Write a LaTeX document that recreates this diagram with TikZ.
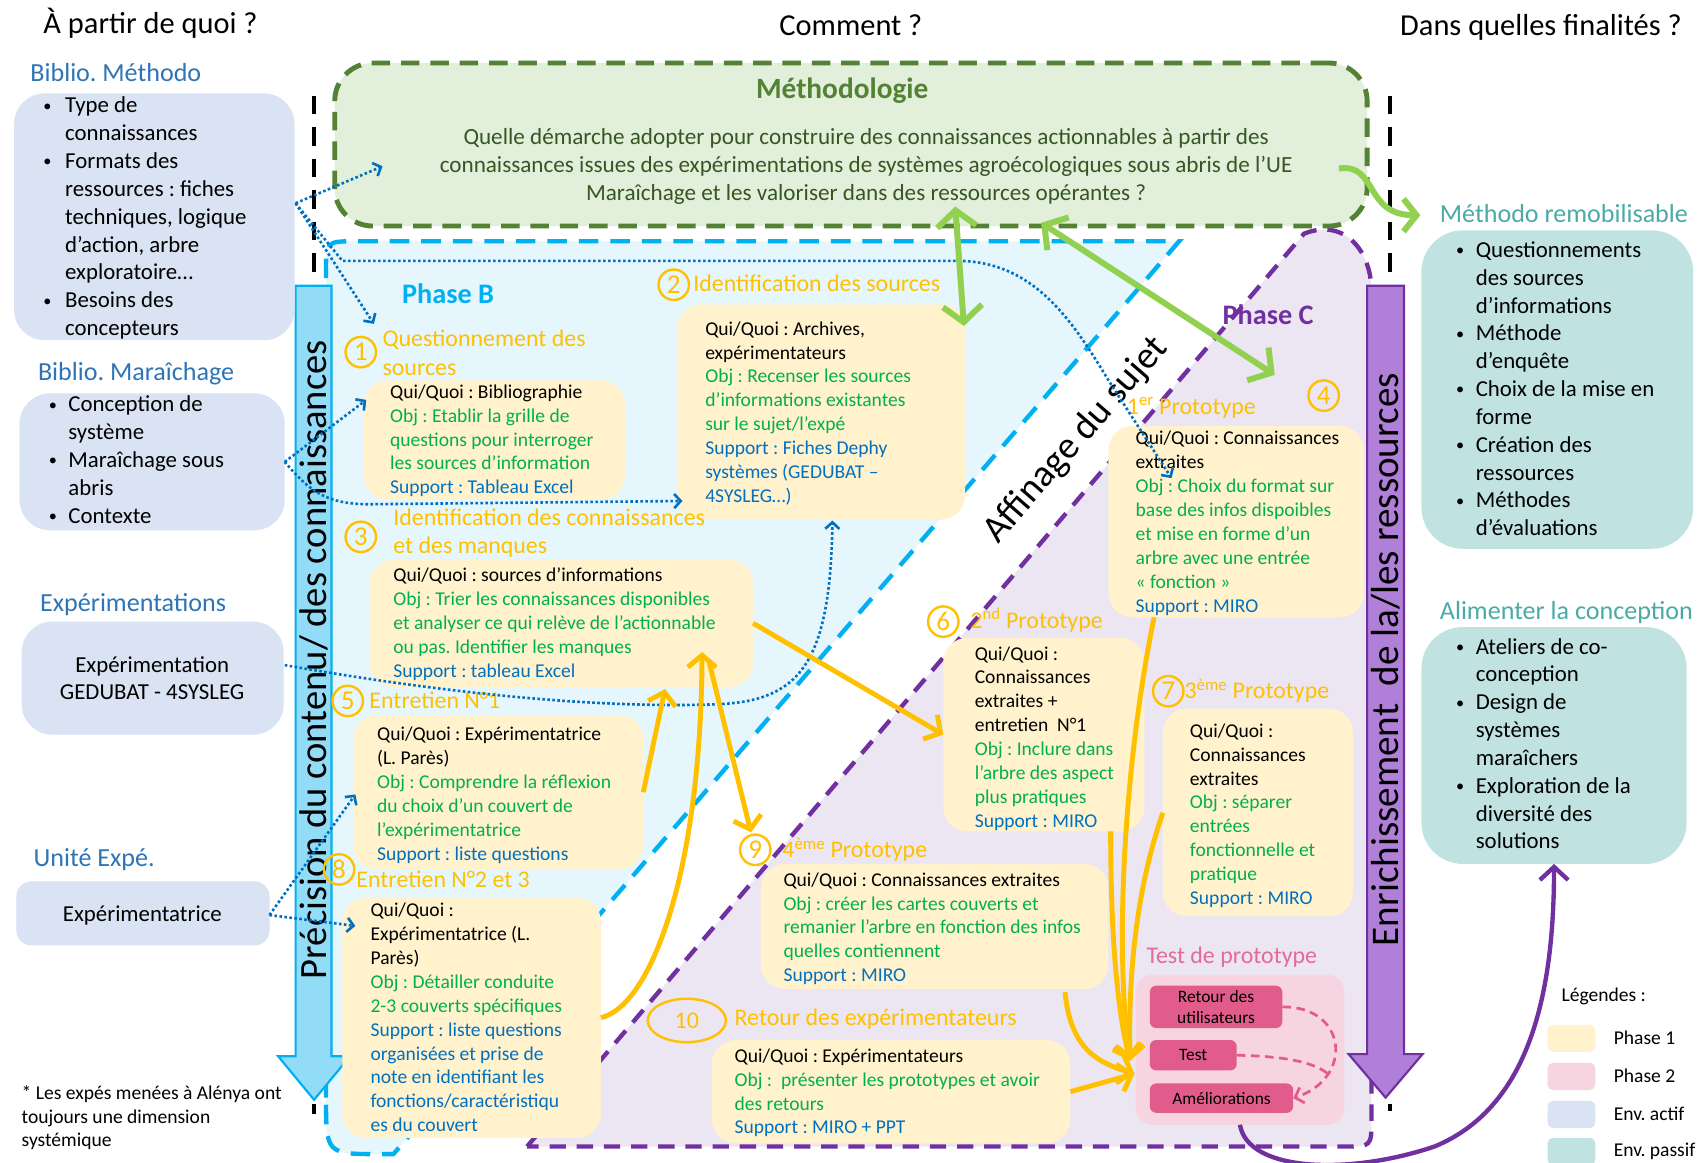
\documentclass[tikz,border=0pt]{standalone}
\usepackage{fontspec}
\setmainfont{Carlito}
\usetikzlibrary{arrows.meta,shapes.geometric}
\frenchspacing

% palette
\definecolor{pone}{HTML}{FFF2CC}
\definecolor{ptwo}{HTML}{F6D5E0}
\definecolor{envact}{HTML}{DAE3F3}
\definecolor{envpas}{HTML}{C0E3E1}
\definecolor{methfill}{HTML}{E2EFDA}
\definecolor{methline}{HTML}{548235}
\definecolor{methtext}{HTML}{375623}
\definecolor{bfill}{HTML}{E6F6FD}
\definecolor{bline}{HTML}{00B0F0}
\definecolor{cfill}{HTML}{ECE6F3}
\definecolor{cline}{HTML}{7030A0}
\definecolor{orng}{HTML}{FFC000}
\definecolor{objg}{HTML}{00B050}
\definecolor{supb}{HTML}{0070C0}
\definecolor{headb}{HTML}{2E75B6}
\definecolor{tealt}{HTML}{4BAAA7}
\definecolor{barrow}{HTML}{93DCF8}
\definecolor{carrow}{HTML}{B07FD7}
\definecolor{lgreen}{HTML}{92D050}
\definecolor{pinkin}{HTML}{E15B8B}
\definecolor{pinkt}{HTML}{E36B97}

% type sizes
\newcommand\szbody{\fontsize{18}{22}\selectfont}
\newcommand\szlist{\fontsize{21}{25.6}\selectfont}
\newcommand\sztitle{\fontsize{22}{27}\selectfont}
\newcommand\szhead{\fontsize{28}{34}\selectfont}
\newcommand\szlab{\fontsize{24}{29}\selectfont}
\newcommand\bitem[1][20]{\makebox[#1pt][l]{\raisebox{1.5pt}{\fontsize{15}{15}\selectfont\textbullet}}}
\newcommand\bcont[1][20]{\hspace*{#1pt}}
\newcommand\gtxt[1]{\textcolor{objg}{#1}}
\newcommand\btxt[1]{\textcolor{supb}{#1}}

\tikzset{
  zonebase/.style={anchor=north west, inner sep=0pt, outer sep=0pt},
  txt/.style={anchor=north west, inner sep=0pt, outer sep=0pt, align=left},
  body/.style={txt, font=\szbody},
  single/.style={anchor=base west, inner sep=0pt, outer sep=0pt},
  yellowbox/.style={fill=pone, rounded corners=22pt},
  actbox/.style={fill=envact, rounded corners=28pt},
  pasbox/.style={fill=envpas, rounded corners=38pt},
  numc/.style={circle, draw=orng, line width=2.2pt, text=orng, minimum size=28pt,
    inner sep=0pt, font=\fontsize{25}{28}\selectfont},
  stitle/.style={single, text=orng, font=\sztitle},
  dotarrow/.style={draw=supb, line width=2.4pt, dash pattern=on 2.4pt off 2.2pt,
    -{Straight Barb[length=6pt,width=13pt]}},
  orarrow/.style={draw=orng, line width=4.5pt, -{Straight Barb[length=11pt,width=26pt]}},
  grarrow/.style={draw=lgreen, line width=5.5pt},
  pinkbtn/.style={zonebase, fill=pinkin, rounded corners=6pt, align=center,
    font=\fontsize{16}{19}\selectfont},
  swatch/.style={zonebase, rounded corners=5pt, minimum width=44pt, minimum height=25pt},
}
% a named rectangular zone given by its two corners
\newcommand\zone[6][]{\node[zonebase,#1,minimum width={#5-#3},minimum height={#6-#4}] (#2) at (#3,#4) {};}

\begin{document}
\begin{tikzpicture}[x=1pt,y=-1pt]
\useasboundingbox (0,0) rectangle (1568,1070);
\fill[white] (0,0) rectangle (1568,1070);

% ---------- phase areas ----------
\draw[fill=bfill, draw=bline, line width=4pt, dash pattern=on 18pt off 11pt]
  (300,1010) -- (300,250) .. controls (300,222) .. (328,222) -- (1085,222)
  -- (362,1062) -- (350,1062) .. controls (300,1062) .. (300,1010) -- cycle;
\draw[fill=cfill, draw=cline, line width=4pt, dash pattern=on 15pt off 10pt]
  (485,1055) -- (1200,215) .. controls (1238,200) and (1262,232) .. (1262,268)
  -- (1262,1030) .. controls (1262,1055) .. (1237,1055) -- cycle;

% column separators
\draw[black, line width=4pt, dash pattern=on 17pt off 12pt] (289,88) -- (289,1025);
\draw[black, line width=4pt, dash pattern=on 17pt off 12pt] (1279,88) -- (1279,1022);

% ---------- headers ----------
\node[single, font=\szhead] (hfrom) at (40,31) {À partir de quoi ?};
\node[anchor=base, inner sep=0pt, font=\szhead] (hhow) at (783,33) {Comment ?};
\node[anchor=base, inner sep=0pt, font=\szhead] (hwhy) at (1418,33) {Dans quelles finalités ?};

% ---------- methodology ----------
\node[zonebase, minimum width=950, minimum height=150, rounded corners=35pt, fill=methfill,
  draw=methline, line width=4.5pt, dash pattern=on 17pt off 10pt] (meth) at (308,58) {};
\node[anchor=base, inner sep=0pt, text=methline, font=\fontsize{27}{32}\selectfont\bfseries]
  (methtitle) at (775,91) {Méthodologie};
\node[anchor=north, inner sep=0pt, align=center, text=methtext, font=\fontsize{21.3}{25.5}\selectfont]
  (methq) at (797,115) {\strut Quelle démarche adopter pour construire des connaissances actionnables à partir des\\
  connaissances issues des expérimentations de systèmes agroécologiques sous abris de l’UE\\
  Maraîchage et les valoriser dans des ressources opérantes ?};

% ---------- vertical arrows ----------
\draw[fill=barrow, draw=bline, line width=2pt]
  (272,263) -- (305,263) -- (305,972) -- (322,972) -- (289,1012) -- (256,972) -- (272,972) -- cycle;
\node[rotate=90, inner sep=0pt, font=\fontsize{35.5}{40}\selectfont] (precision) at (289,607)
  {Précision du contenu/ des connaissances};
\draw[fill=carrow, draw=cline, line width=2pt]
  (1258,263) -- (1292,263) -- (1292,970) -- (1309,970) -- (1275,1010) -- (1241,970) -- (1258,970) -- cycle;
\node[rotate=90, inner sep=0pt, font=\fontsize{36}{40}\selectfont] (enrich) at (1275,607)
  {Enrichissement\ \ de la/les ressources};

% phase labels
\node[single, text=bline, font=\fontsize{26}{30}\selectfont\bfseries] (phb) at (370,279) {Phase B};
\node[single, text=cline, font=\fontsize{26}{30}\selectfont\bfseries] (phc) at (1125,299) {Phase C};
\node[rotate=49, inner sep=0pt, font=\fontsize{35}{40}\selectfont] (affinage) at (990,405) {Affinage du sujet};

% ---------- left column ----------
\node[single, text=headb, font=\szlab] (lab1) at (28,75) {Biblio. Méthodo};
\zone[actbox]{envA}{13}{86}{271}{313}
\node[txt, font=\szlist] (envAt) at (40,86) {\strut\bitem Type de\\\bcont connaissances\\
  \bitem Formats des\\\bcont ressources : fiches\\\bcont techniques, logique\\\bcont d’action, arbre\\
  \bcont exploratoire…\\\bitem Besoins des\\\bcont concepteurs};

\node[single, text=headb, font=\szlab] (lab2) at (35,350) {Biblio. Maraîchage};
\zone[actbox]{envB}{18}{362}{262}{488}
\node[txt, font=\szlist] (envBt) at (45,361) {\strut\bitem[18]Conception de\\\bcont[18]système\\
  \bitem[18]Maraîchage sous\\\bcont[18]abris\\\bitem[18]Contexte};

\node[single, text=headb, font=\szlab] (lab3) at (37,563) {Expérimentations};
\zone[actbox]{envC}{20}{572}{261}{676}
\node[align=center, inner sep=0pt, font=\szlist] (envCt) at (140,624) {Expérimentation\\GEDUBAT - 4SYSLEG};

\node[single, text=headb, font=\szlab] (lab4) at (31,797) {Unité Expé.};
\zone[actbox, rounded corners=14pt]{envD}{15}{811}{248}{870}
\node[inner sep=0pt, font=\szlist] (envDt) at (131,842) {Expérimentatrice};

\node[body] (note) at (20,996) {\strut * Les expés menées à Alénya ont\\toujours une dimension\\systémique};

% ---------- right column ----------
\node[single, text=tealt, font=\szlab] (lab5) at (1325,205) {Méthodo remobilisable};
\zone[pasbox]{outA}{1308}{212}{1558}{505}
\node[txt, font=\szlist] (outAt) at (1340,219) {\strut\bitem[18]Questionnements\\\bcont[18]des sources\\
  \bcont[18]d’informations\\\bitem[18]Méthode\\\bcont[18]d’enquête\\\bitem[18]Choix de la mise en\\
  \bcont[18]forme\\\bitem[18]Création des\\\bcont[18]ressources\\\bitem[18]Méthodes\\\bcont[18]d’évaluations};

\node[single, text=tealt, font=\szlab] (lab6) at (1325,570) {Alimenter la conception};
\zone[pasbox]{outB}{1308}{577}{1552}{795}
\node[txt, font=\szlist] (outBt) at (1340,584) {\strut\bitem[18]Ateliers de co-\\\bcont[18]conception\\
  \bitem[18]Design de\\\bcont[18]systèmes\\\bcont[18]maraîchers\\\bitem[18]Exploration de la\\
  \bcont[18]diversité des\\\bcont[18]solutions};

% ---------- phase B steps ----------
\node[numc] (c1) at (332,324) {1};
\node[txt, text=orng, font=\sztitle] (t1) at (352,300) {\strut Questionnement des\\sources};
\zone[yellowbox]{b1}{335}{350}{575}{460}
\node[body] (b1t) at (359,351) {\strut Qui/Quoi : Bibliographie\\\gtxt{Obj : Etablir la grille de}\\
  \gtxt{questions pour interroger}\\\gtxt{les sources d’information}\\\btxt{Support : Tableau Excel}};

\node[numc] (c2) at (620,262) {2};
\node[stitle] (t2) at (638,268) {Identification des sources};
\zone[yellowbox]{b2}{623}{280}{888}{478}
\node[body] (b2t) at (649,293) {\strut Qui/Quoi : Archives,\\expérimentateurs\\\gtxt{Obj : Recenser les sources}\\
  \gtxt{d’informations existantes}\\\gtxt{sur le sujet/l’expé}\\\btxt{Support : Fiches Dephy}\\
  \btxt{systèmes (GEDUBAT –}\\\btxt{4SYSLEG…)}};

\node[numc] (c3) at (332,494) {3};
\node[txt, text=orng, font=\fontsize{22}{26}\selectfont] (t3) at (362,465) {\strut Identification des connaissances\\et des manques};
\zone[yellowbox]{b3}{340}{515}{693}{632}
\node[body] (b3t) at (362,520) {\strut Qui/Quoi : sources d’informations\\\gtxt{Obj : Trier les connaissances disponibles}\\
  \gtxt{et analyser ce qui relève de l’actionnable}\\\gtxt{ou pas. Identifier les manques}\\\btxt{Support : tableau Excel}};

\node[numc] (c5) at (320,645) {5};
\node[stitle] (t5) at (340,652) {Entretien N°1};
\zone[yellowbox]{b5}{325}{658}{592}{800}
\node[body] (b5t) at (347,666) {\strut Qui/Quoi : Expérimentatrice\\(L. Parès)\\\gtxt{Obj : Comprendre la réflexion}\\
  \gtxt{du choix d’un couvert de}\\\gtxt{l’expérimentatrice}\\\btxt{Support : liste questions}};

\node[numc] (c8) at (312,800) {8};
\node[stitle] (t8) at (328,817) {Entretien N°2 et 3};
\zone[yellowbox]{b8}{315}{826}{553}{1047}
\node[body] (b8t) at (341,828) {\strut Qui/Quoi :\\Expérimentatrice (L.\\Parès)\\\gtxt{Obj : Détailler conduite}\\
  \gtxt{2-3 couverts spécifiques}\\\btxt{Support : liste questions}\\\btxt{organisées et prise de}\\
  \btxt{note en identifiant les}\\\btxt{fonctions/caractéristiqu}\\\btxt{es du couvert}};

% ---------- phase C steps ----------
\node[numc] (c4) at (1218,364) {4};
\node[stitle] (t4) at (1037,381) {1\textsuperscript{er} Prototype};
\zone[yellowbox]{b4}{1020}{392}{1255}{568}
\node[body] (b4t) at (1045,394) {\strut Qui/Quoi : Connaissances\\extraites\\\gtxt{Obj : Choix du format sur}\\
  \gtxt{base des infos dispoibles}\\\gtxt{et mise en forme d’un}\\\gtxt{arbre avec une entrée}\\
  \gtxt{« fonction »}\\\btxt{Support : MIRO}};

\node[numc] (c6) at (868,572) {6};
\node[stitle] (t6) at (893,578) {2\textsuperscript{nd} Prototype};
\zone[yellowbox]{b6}{868}{587}{1053}{765}
\node[body] (b6t) at (897,592) {\strut Qui/Quoi :\\Connaissances\\extraites +\\entretien\ \ N°1\\
  \gtxt{Obj : Inclure dans}\\\gtxt{l’arbre des aspect}\\\gtxt{plus pratiques}\\\btxt{Support : MIRO}};

\node[numc] (c7) at (1075,636) {7};
\node[stitle] (t7) at (1090,643) {3\textsuperscript{ème} Prototype};
\zone[yellowbox]{b7}{1070}{652}{1245}{843}
\node[body] (b7t) at (1095,663) {\strut Qui/Quoi :\\Connaissances\\extraites\\\gtxt{Obj : séparer}\\
  \gtxt{entrées}\\\gtxt{fonctionnelle et}\\\gtxt{pratique}\\\btxt{Support : MIRO}};

\node[numc] (c9) at (695,782) {9};
\node[stitle] (t9) at (720,789) {4\textsuperscript{ème} Prototype};
\zone[yellowbox]{b9}{700}{795}{1020}{910}
\node[body] (b9t) at (721,800) {\strut Qui/Quoi : Connaissances extraites\\\gtxt{Obj : créer les cartes couverts et}\\
  \gtxt{remanier l’arbre en fonction des infos}\\\gtxt{quelles contiennent}\\\btxt{Support : MIRO}};

\node[ellipse, draw=orng, line width=2.2pt, text=orng, minimum width=72pt, minimum height=40pt,
  inner sep=0pt, font=\fontsize{22}{26}\selectfont] (c10) at (632,939) {10};
\node[stitle] (t10) at (676,944) {Retour des expérimentateurs};
\zone[yellowbox]{b10}{655}{957}{985}{1052}
\node[body] (b10t) at (676,962) {\strut Qui/Quoi : Expérimentateurs\\\gtxt{Obj :\ \ présenter les prototypes et avoir}\\
  \gtxt{des retours}\\\btxt{Support : MIRO + PPT}};

% ---------- prototype test ----------
\node[single, text=pinkt, font=\sztitle] (ttest) at (1055,887) {Test de prototype};
\zone[fill=ptwo, rounded corners=16pt]{testbox}{1045}{897}{1237}{1035}
\node[pinkbtn, minimum width=122pt, minimum height=39pt] (retour) at (1058,907) {Retour des\\utilisateurs};
\node[pinkbtn, minimum width=80pt, minimum height=28pt] (test) at (1058,957) {Test};
\node[pinkbtn, minimum width=132pt, minimum height=27pt] (amelio) at (1058,997) {Améliorations};
\draw[pinkin, line width=2.5pt, dash pattern=on 8pt off 5pt, -{Straight Barb[length=7pt,width=15pt]}]
  (retour.east) .. controls (1240,926) and (1246,992) .. (amelio.east);
\draw[pinkin, line width=2.5pt, dash pattern=on 8pt off 5pt]
  (test.east) .. controls (1185,972) and (1212,978) .. (1224,990);

% ---------- legend ----------
\node[single, font=\szbody] (legt) at (1437,922) {Légendes :};
\node[swatch, fill=pone] (sw1) at (1424,943) {};
\node[swatch, fill=ptwo] (sw2) at (1424,978) {};
\node[swatch, fill=envact] (sw3) at (1424,1013) {};
\node[swatch, fill=envpas] (sw4) at (1424,1047) {};
\node[single, font=\szbody] (lg1) at (1485,961) {Phase 1};
\node[single, font=\szbody] (lg2) at (1485,996) {Phase 2};
\node[single, font=\szbody] (lg3) at (1485,1031) {Env. actif};
\node[single, font=\szbody] (lg4) at (1485,1064) {Env. passif};

% ---------- dotted information flows ----------
\coordinate (dA) at (272,187);
\coordinate (dB) at (262,425);
\coordinate (dC) at (262,612);
\coordinate (dD) at (248,842);
\coordinate (eMeth) at (352,153);
\coordinate (eQ) at (344,298);
\coordinate (eB4) at (1078,440);
\coordinate (eB1) at (337,368);
\coordinate (eB2) at (628,461);
\coordinate (eB2b) at (766,479);
\coordinate (eB5) at (327,731);
\coordinate (eB8) at (327,852);
\draw[dotarrow] (dA) -- (eMeth);
\draw[dotarrow] (dA) -- (eQ);
\draw[dotarrow] (dA) -- (315,240) -- (880,240) .. controls (950,240) and (985,292) .. (1020,350) -- (eB4);
\draw[dotarrow] (dB) -- (eB1);
\draw[dotarrow] (dB) .. controls (285,452) and (300,464) .. (340,464) -- (eB2);
\draw[dotarrow] (dC) .. controls (420,640) and (560,652) .. (660,648) .. controls (735,645) and (764,612) .. (eB2b);
\draw[dotarrow] (dD) -- (eB5);
\draw[dotarrow] (dD) -- (eB8);

% ---------- knowledge flows (orange) ----------
\coordinate (o2e) at (646,600);
\coordinate (o3e) at (612,634);
\coordinate (o4s) at (652,607);
\coordinate (o4e) at (691,766);
\coordinate (k1) at (1040,976);
\coordinate (k2) at (1044,988);
\draw[orarrow] (b3.east) -- (b6.west);
\draw[orarrow] (b8.east) .. controls (600,925) and (645,800) .. (o2e);
\draw[orarrow] (b5.east) .. controls (600,690) and (606,662) .. (o3e);
\draw[orarrow] (o4s) -- (o4e);
\draw[orarrow] (1062,568) .. controls (1035,700) and (1025,870) .. (k1);
\draw[orarrow] (1022,765) .. controls (1022,860) and (1028,930) .. (k1);
\draw[orarrow] (b7.west |- 0,748) .. controls (1045,820) and (1038,900) .. (k1);
\draw[orarrow] (980,913) .. controls (985,965) and (1010,978) .. (k2);
\draw[orarrow] (b10.east) -- (k2);

% ---------- methodology links (green) ----------
\coordinate (g1a) at (879,190);
\coordinate (g1b) at (887,300);
\coordinate (g2a) at (958,205);
\coordinate (g2b) at (1173,345);
\coordinate (g3a) at (1232,155);
\coordinate (g3b) at (1307,198);
\draw[grarrow, {Straight Barb[length=15pt,width=36pt]}-{Straight Barb[length=15pt,width=36pt]}] (g1a) -- (g1b);
\draw[grarrow, {Straight Barb[length=15pt,width=36pt]}-{Straight Barb[length=15pt,width=36pt]}] (g2a) -- (g2b);
\draw[grarrow, -{Straight Barb[length=12pt,width=30pt]}] (g3a) .. controls (1268,150) and (1255,198) .. (g3b);

% ---------- feeding design (purple) ----------
\draw[cline, line width=4pt, -{Straight Barb[length=12pt,width=26pt]}]
  (testbox.south) .. controls (1148,1078) and (1240,1082) .. (1320,1055)
  .. controls (1405,1020) and (1430,920) .. (outB.south);

\end{tikzpicture}
\end{document}
